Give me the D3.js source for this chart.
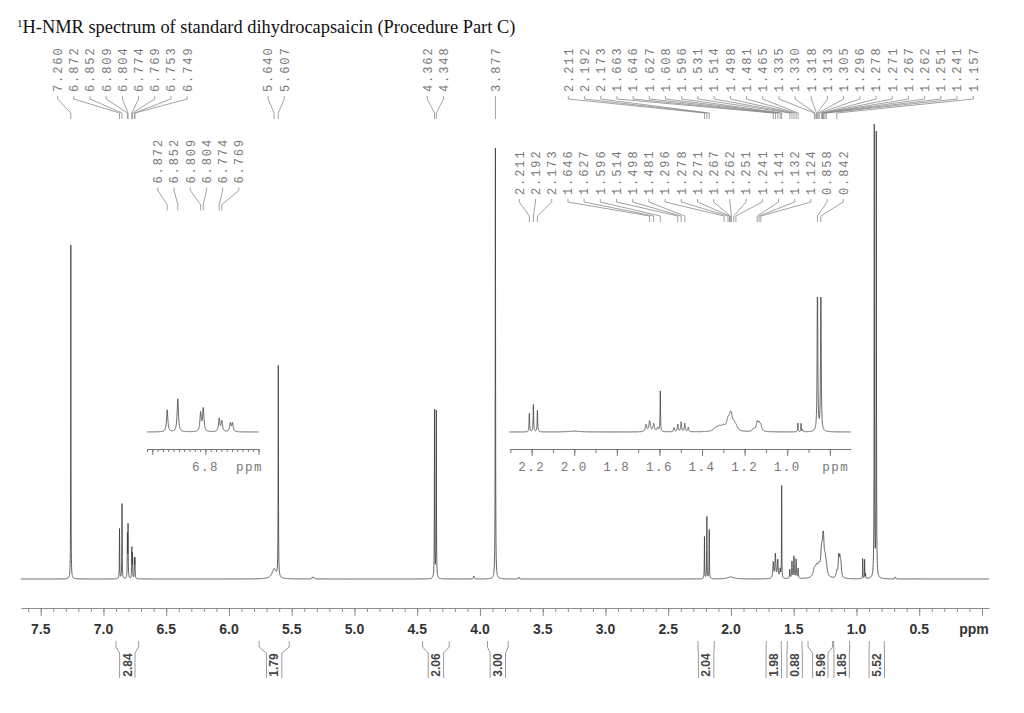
<!DOCTYPE html>
<html>
<head>
<meta charset="utf-8">
<script src="https://cdn.jsdelivr.net/npm/d3@7/dist/d3.min.js"></script>
<style>
body{margin:0;background:#fff;}
svg{display:block;}
</style>
</head>
<body>
<div class="nmr-container"></div>
<script>
//Peak list: shift (ppm), height (relative), half width (ppm)
const peakPpm = [7.260, 6.872, 6.852, 6.809, 6.804, 6.774, 6.769, 6.753, 6.749,
  5.640, 5.607, 5.335, 5.320, 4.362, 4.348, 4.050, 3.877, 3.690,
  2.211, 2.192, 2.173, 2.000,
  1.663, 1.646, 1.627, 1.608, 1.596,
  1.531, 1.514, 1.498, 1.481, 1.465,
  1.335, 1.318, 1.300, 1.278, 1.267, 1.262, 1.250, 1.240,
  1.157, 1.141, 1.132, 1.124,
  0.950, 0.935, 0.928, 0.858, 0.842, 0.690];
const peakHeight = [334, 50, 75, 42, 52, 30, 24, 19, 19,
  10, 211, 2, 1.5, 168, 167, 3, 431, 2,
  42, 62, 49, 2,
  16, 24, 18, 9, 92,
  9, 17, 22, 19, 10,
  8, 8, 10, 22, 24, 18, 14, 8,
  6, 20, 16, 12,
  20, 19, 5, 451, 444, 2];
const peakWidth = [0.0012, 0.0015, 0.0015, 0.0015, 0.0015, 0.0015, 0.0015, 0.0015, 0.0015,
  0.02, 0.0015, 0.004, 0.004, 0.0015, 0.0015, 0.003, 0.0015, 0.003,
  0.0015, 0.0015, 0.0015, 0.03,
  0.004, 0.004, 0.004, 0.004, 0.0012,
  0.0025, 0.0025, 0.0025, 0.0025, 0.0025,
  0.012, 0.010, 0.012, 0.008, 0.007, 0.006, 0.008, 0.008,
  0.006, 0.005, 0.005, 0.005,
  0.0012, 0.0012, 0.0015, 0.0015, 0.0015, 0.003];

//Peak labels (top rows)
const labelsAromatic = ['7.260', '6.872', '6.852', '6.809', '6.804', '6.774', '6.769', '6.753', '6.749'];
const labelsNH = ['5.640', '5.607'];
const labelsCH2N = ['4.362', '4.348'];
const labelsOMe = ['3.877'];
const labelsAliphatic = ['2.211', '2.192', '2.173', '1.663', '1.646', '1.627', '1.608', '1.596',
  '1.531', '1.514', '1.498', '1.481', '1.465', '1.335', '1.330', '1.318', '1.313', '1.305',
  '1.296', '1.278', '1.271', '1.267', '1.262', '1.251', '1.241', '1.157'];
const labelsInset1 = ['6.872', '6.852', '6.809', '6.804', '6.774', '6.769'];
const labelsInset2 = ['2.211', '2.192', '2.173', '1.646', '1.627', '1.596', '1.514', '1.498',
  '1.481', '1.296', '1.278', '1.271', '1.267', '1.262', '1.251', '1.241', '1.141', '1.132',
  '1.124', '0.858', '0.842'];

//Integrals
const integralFrom = [6.90, 5.76, 4.457, 3.94, 2.263, 1.719, 1.551, 1.386, 1.182, 0.898];
const integralTo = [6.72, 5.52, 4.245, 3.775, 2.133, 1.599, 1.434, 1.190, 1.054, 0.778];
const integralValue = ['2.84', '1.79', '2.06', '3.00', '2.04', '1.98', '0.88', '5.96', '1.85', '5.52'];

//Axis ticks
const mainMajorTicks = [7.5, 7.0, 6.5, 6.0, 5.5, 5.0, 4.5, 4.0, 3.5, 3.0, 2.5, 2.0, 1.5, 1.0, 0.5, 0.0];
const inset1Labels = [6.8];
const inset2Labels = [2.2, 2.0, 1.8, 1.6, 1.4, 1.2, 1.0];

const svg_width = 1024;
const svg_height = 713;
const monoFont = '"Liberation Mono", "DejaVu Sans Mono", monospace';

//Lorentzian sum
function intensity(x){
    let s = 0;
    for (let i = 0; i < peakPpm.length; i++){
        const d = x - peakPpm[i], w = peakWidth[i];
        s += peakHeight[i] * w * w / (d * d + w * w);
    }
    return s;
}

function sampleSpectrum(lo, hi, step){
    const xs = d3.range(lo, hi, step);
    peakPpm.forEach(p => { if (p > lo && p < hi) xs.push(p); });
    xs.sort((a, b) => a - b);
    return xs.map(x => [x, intensity(x)]);
}

//labels of a group are spread evenly round the mean of their peaks
function layoutGroup(xs, spacing, maxX){
    const n = xs.length;
    let start = d3.mean(xs) - (n - 1) * spacing / 2;
    if (start + (n - 1) * spacing > maxX) start = maxX - (n - 1) * spacing;
    return xs.map((d, i) => start + i * spacing);
}

function drawLabelGroup(g, labels, xScale, textBottom, maxX){
    const peakX = labels.map(s => xScale(+s));
    const lx = layoutGroup(peakX, 16.2, maxX);
    labels.forEach((s, i) => {
        g.append('path')
         .attr('d', `M${lx[i]},${textBottom + 4}V${textBottom + 7}L${peakX[i]},${textBottom + 21}V${textBottom + 27}`)
         .attr('fill', 'none').attr('stroke', '#8a8a8a').attr('stroke-width', 0.8);
        g.append('text')
         .attr('transform', `translate(${lx[i]},${textBottom}) rotate(-90)`)
         .attr('dy', '0.36em')
         .style('font-family', monoFont).style('font-size', '12px')
         .style('letter-spacing', '1.9px').style('fill', '#7a7a7a')
         .text(s);
    });
}

function drawAxis(g, scale, y, minorValues, minorSize, majorValues, majorSize){
    const a = g.append('g').attr('transform', `translate(0,${y})`);
    a.call(d3.axisBottom(scale).tickValues(minorValues).tickSize(minorSize).tickSizeOuter(0).tickFormat(''));
    const b = g.append('g').attr('transform', `translate(0,${y})`);
    b.call(d3.axisBottom(scale).tickValues(majorValues).tickSize(majorSize).tickSizeOuter(0).tickFormat(''));
    b.select('.domain').remove();
    return [a, b];
}

function setCanvas(){
    const svg = d3.select('.nmr-container').append('svg')
        .attr('width', svg_width).attr('height', svg_height);

    //Title
    const title = svg.append('text').attr('x', 17).attr('y', 33)
        .style('font-family', '"Liberation Serif", "Times New Roman", serif').style('fill', '#111');
    title.append('tspan').text('1').style('font-size', '11px').attr('dy', -6);
    title.append('tspan').text('H-NMR spectrum of standard dihydrocapsaicin (Procedure Part C)')
        .style('font-size', '18.4px').attr('dy', 6);

    //Scales
    const xMain = d3.scaleLinear().domain([7.657, -0.056]).range([21, 989]);
    const yMain = d3.scaleLinear().domain([0, 451]).range([579, 128]);
    const xInset1 = d3.scaleLinear().domain([6.91, 6.70]).range([147, 258.5]);
    const xInset2 = d3.scaleLinear().domain([2.305, 0.702]).range([509.3, 850.7]);
    const yInset = d3.scaleLinear().domain([0, 451]).range([432, 432 - 0.44 * 451]);

    //Main spectrum
    const mainData = sampleSpectrum(-0.056, 7.657, 0.0008);
    svg.append('path').datum(mainData)
        .attr('d', d3.line().x(d => xMain(d[0])).y(d => yMain(d[1])))
        .attr('fill', 'none').attr('stroke', '#3a3a3a').attr('stroke-width', 0.8);

    //Inset 1 (aromatic)
    const inset1Data = sampleSpectrum(6.70, 6.91, 0.0003);
    svg.append('path').datum(inset1Data)
        .attr('d', d3.line().x(d => xInset1(d[0])).y(d => yInset(d[1])))
        .attr('fill', 'none').attr('stroke', '#444').attr('stroke-width', 0.8);

    //Inset 2 (aliphatic), clipped at top
    svg.append('clipPath').attr('id', 'clip2').append('rect')
        .attr('x', 500).attr('y', 297).attr('width', 360).attr('height', 150);
    const inset2Data = sampleSpectrum(0.702, 2.305, 0.0004);
    svg.append('path').datum(inset2Data)
        .attr('clip-path', 'url(#clip2)')
        .attr('d', d3.line().x(d => xInset2(d[0])).y(d => yInset(d[1])))
        .attr('fill', 'none').attr('stroke', '#444').attr('stroke-width', 0.8);

    //Main axis
    const mainAxis = drawAxis(svg, xMain, 608, d3.range(0, 77).map(i => i / 10), 4, mainMajorTicks, 8);
    mainAxis.forEach(a => a.selectAll('path, line').attr('stroke', '#8c8c8c'));
    svg.append('g').selectAll('text').data(mainMajorTicks).enter().append('text')
        .attr('x', d => xMain(d) + (d === 0 ? -8 : 0)).attr('y', 634)
        .attr('text-anchor', 'middle')
        .style('font-family', '"Liberation Sans", Arial, sans-serif')
        .style('font-size', '14px').style('font-weight', 'bold').style('fill', '#333')
        .text(d => d === 0 ? 'ppm' : d3.format('.1f')(d));

    //Inset axes
    const a1 = drawAxis(svg, xInset1, 449, d3.range(670, 692).map(i => i / 100), 3, [6.7, 6.8, 6.9], 6);
    const a2 = drawAxis(svg, xInset2, 449, d3.range(8, 24).map(i => i / 10), 4, [0.8, 1.0, 1.2, 1.4, 1.6, 1.8, 2.0, 2.2], 7);
    a1.concat(a2).forEach(a => a.selectAll('path, line').attr('stroke', '#777'));
    const insetText = (x, s) => svg.append('text').attr('x', x).attr('y', 471)
        .attr('text-anchor', 'middle')
        .style('font-family', monoFont).style('font-size', '12.5px')
        .style('letter-spacing', '1.5px').style('fill', '#777').text(s);
    inset1Labels.forEach(d => insetText(xInset1(d), d3.format('.1f')(d)));
    insetText(xInset1(6.717), 'ppm');
    inset2Labels.forEach(d => insetText(xInset2(d), d3.format('.1f')(d)));
    insetText(xInset2(0.8) + 6, 'ppm');

    //Peak labels
    const labelG = svg.append('g');
    [labelsAromatic, labelsNH, labelsCH2N, labelsOMe, labelsAliphatic]
        .forEach(grp => drawLabelGroup(labelG, grp, xMain, 92, 973.3));
    drawLabelGroup(labelG, labelsInset1, xInset1, 183.5, 843.3);
    drawLabelGroup(labelG, labelsInset2, xInset2, 195, 843.3);

    //Integrals
    const intG = svg.append('g');
    integralValue.forEach((v, i) => {
        const x1 = xMain(integralFrom[i]), x2 = xMain(integralTo[i]);
        const c = (x1 + x2) / 2, b = 7.7;
        intG.append('path')
            .attr('d', `M${x1},641V647L${c - b},653V678M${x2},641V647L${c + b},653V678`)
            .attr('fill', 'none').attr('stroke', '#9a9a9a').attr('stroke-width', 1);
        intG.append('text')
            .attr('transform', `translate(${c},665) rotate(-90)`)
            .attr('text-anchor', 'middle').attr('dy', '0.36em')
            .style('font-family', '"Liberation Sans", Arial, sans-serif')
            .style('font-size', '12px').style('font-weight', 'bold').style('fill', '#444')
            .text(v);
    });
}

setCanvas();
</script>
</body>
</html>
